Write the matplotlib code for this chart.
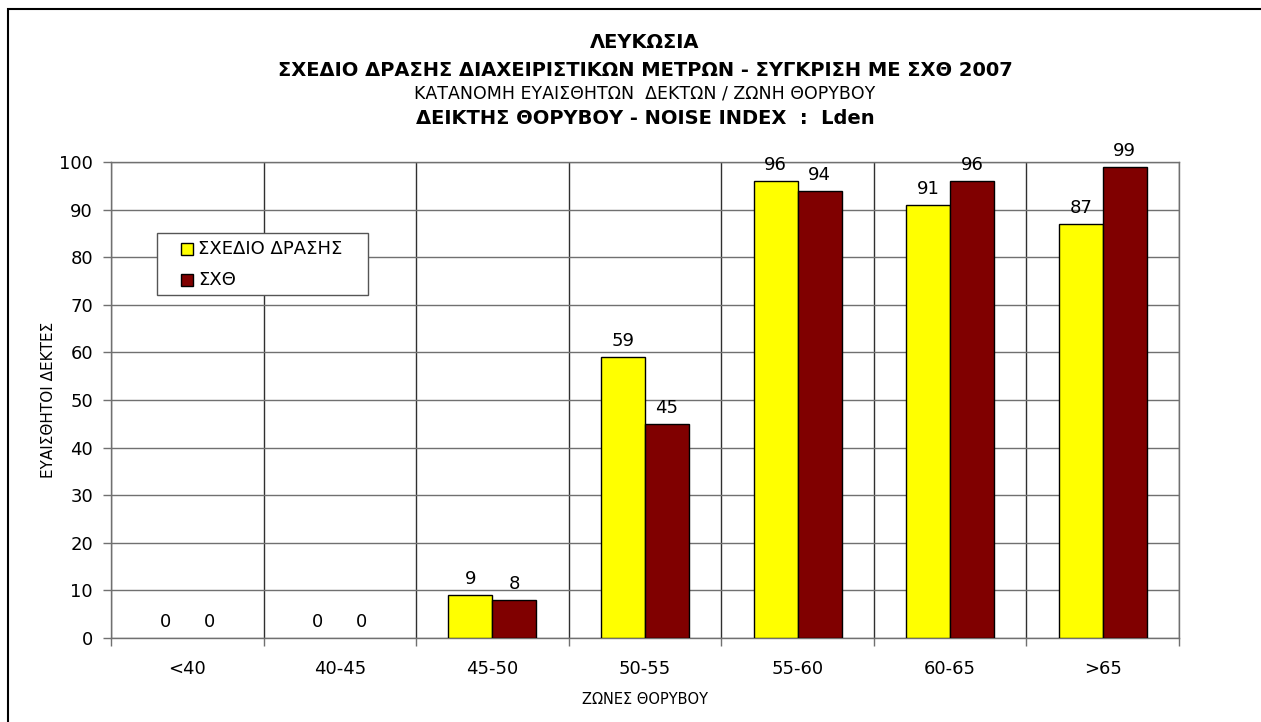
import matplotlib
matplotlib.use("Agg")
import matplotlib.pyplot as plt
from matplotlib.patches import Rectangle
import numpy as np

categories = ["<40", "40-45", "45-50", "50-55", "55-60", "60-65", ">65"]
plan_values = [0, 0, 9, 59, 96, 91, 87]
sxth_values = [0, 0, 8, 45, 94, 96, 99]
series_names = ["ΣΧΕΔΙΟ ΔΡΑΣΗΣ", "ΣΧΘ"]
series_colors = ["#FFFF00", "#800000"]
yticks = [0, 10, 20, 30, 40, 50, 60, 70, 80, 90, 100]

plt.rcParams['font.family'] = ['DejaVu Sans']

W, H = 1261, 722
fig = plt.figure(figsize=(W / 100, H / 100), dpi=100)
ax = fig.add_axes([111 / W, 1 - 638 / H, (1179 - 111) / W, (638 - 162) / H])

grid_c = '#707070'
x = np.arange(len(categories)) + 0.5
w = 44 / 152.5
for offs, vals, col in [(-w / 2, plan_values, series_colors[0]), (w / 2, sxth_values, series_colors[1])]:
    lws = [1 if v > 0 else 0 for v in vals]
    ax.bar(x + offs, vals, w, color=col, edgecolor='black', linewidth=lws, zorder=3)
    for xi, v in zip(x + offs, vals):
        ax.annotate(str(v), (xi, v), xytext=(0, 5), textcoords='offset points',
                    ha='center', va='bottom', fontsize=13, zorder=4)

ax.set_xlim(0, len(categories))
ax.set_ylim(0, 100)
ax.set_yticks(yticks)
ax.set_xticks(x)
ax.set_xticklabels(categories)
ax.set_xticks(np.arange(len(categories) + 1), minor=True)
ax.tick_params(axis='x', which='major', length=0, labelsize=13, pad=16)
ax.tick_params(axis='x', which='minor', length=6, color=grid_c, width=1)
ax.tick_params(axis='y', length=6, color=grid_c, width=1, labelsize=13, pad=7)
ax.grid(axis='y', which='major', color=grid_c, linewidth=1, zorder=0)
ax.grid(axis='x', which='minor', color='#303030', linewidth=1, zorder=0)
ax.grid(axis='x', which='major', visible=False)
ax.set_axisbelow(True)
for s in ax.spines.values():
    s.set_color(grid_c)
    s.set_linewidth(1)

ax.set_ylabel("ΕΥΑΙΣΘΗΤΟΙ ΔΕΚΤΕΣ", fontsize=11, labelpad=2)
ax.set_xlabel("ΖΩΝΕΣ ΘΟΡΥΒΟΥ", fontsize=10.5, labelpad=10)

# legend box (axes fraction coordinates)
axw, axh = 1179 - 111, 638 - 162
def fx(px):
    return (px - 111) / axw
def fy(py):
    return (638 - py) / axh
ax.add_patch(Rectangle((fx(157), fy(295)), 211 / axw, 62 / axh, transform=ax.transAxes,
                       facecolor='white', edgecolor='#555555', linewidth=1, zorder=5))
for name, col, yc in zip(series_names, series_colors, [249, 280]):
    ax.add_patch(Rectangle((fx(181), fy(yc + 6)), 12 / axw, 12 / axh, transform=ax.transAxes,
                           facecolor=col, edgecolor='black', linewidth=1, zorder=6))
    ax.text(fx(198), fy(yc), name, transform=ax.transAxes, ha='left', va='center',
            fontsize=13, zorder=6)

cx = 645 / W
fig.text(cx, 1 - 43 / H, "ΛΕΥΚΩΣΙΑ", ha='center', va='center', fontsize=14, fontweight='bold')
fig.text(cx, 1 - 71 / H, "ΣΧΕΔΙΟ ΔΡΑΣΗΣ ΔΙΑΧΕΙΡΙΣΤΙΚΩΝ ΜΕΤΡΩΝ - ΣΥΓΚΡΙΣΗ ΜΕ ΣΧΘ 2007",
         ha='center', va='center', fontsize=14, fontweight='bold')
fig.text(cx, 1 - 93 / H, "ΚΑΤΑΝΟΜΗ ΕΥΑΙΣΘΗΤΩΝ  ΔΕΚΤΩΝ / ΖΩΝΗ ΘΟΡΥΒΟΥ",
         ha='center', va='center', fontsize=12.5)
fig.text(cx, 1 - 118 / H, "ΔΕΙΚΤΗΣ ΘΟΡΥΒΟΥ - NOISE INDEX  :  Lden",
         ha='center', va='center', fontsize=14, fontweight='bold')

border = Rectangle((8 / W, -0.05), 1.1, 1 - 9 / H + 0.05, transform=fig.transFigure,
                   fill=False, edgecolor='black', linewidth=1.5, clip_on=False)
fig.patches.append(border)

fig.savefig("out.png", dpi=100)
